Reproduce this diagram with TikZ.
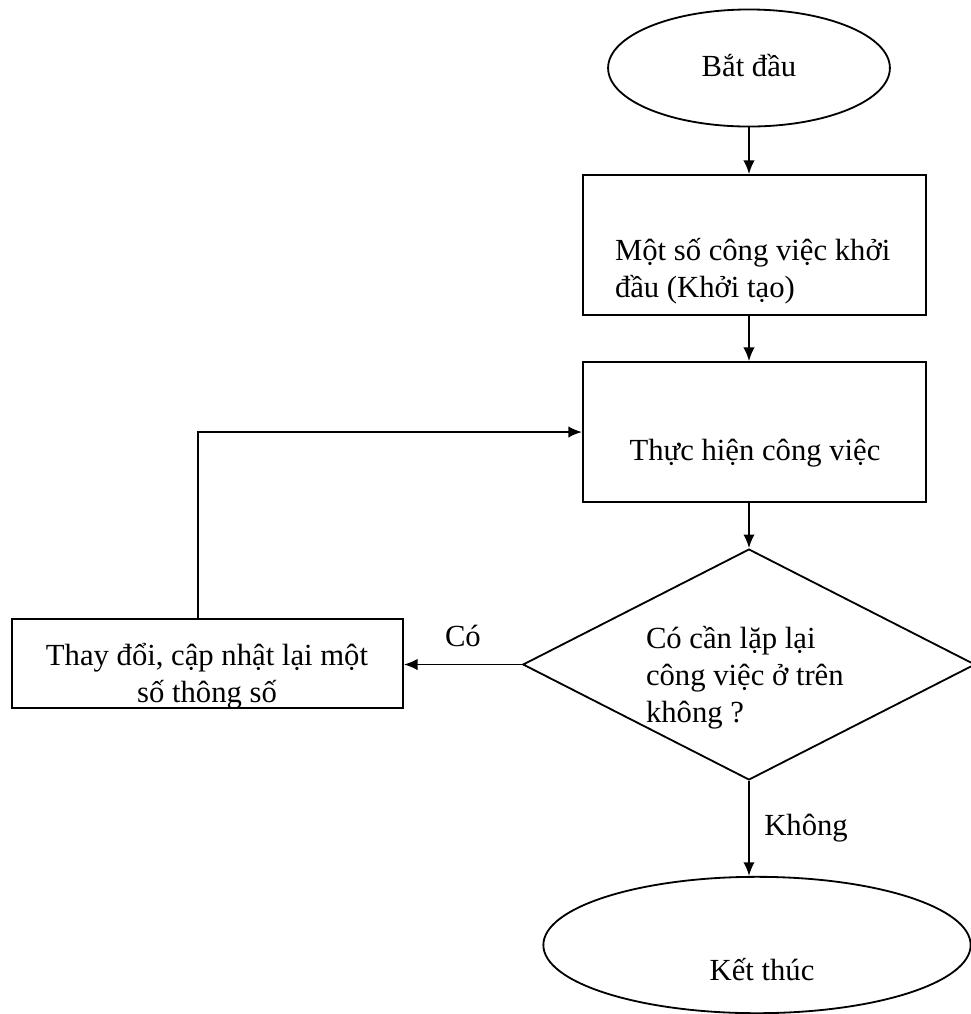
\documentclass[tikz,border=0pt]{standalone}
\usepackage{fontspec}
\setmainfont{Liberation Serif}
\usetikzlibrary{shapes.geometric,arrows.meta}
\tikzset{
  flowline/.style={line width=0.8pt},
  oval/.style={draw, ellipse, flowline, inner sep=0pt},
  stepbox/.style={draw, rectangle, flowline, inner sep=0pt},
  choice/.style={draw, diamond, flowline, inner sep=0pt},
  txt/.style={inner sep=2pt}
}
\begin{document}
\begin{tikzpicture}[x=0.44pt, y=-0.44pt, >={Latex[length=6pt,width=5pt]},
    font=\fontsize{13.5}{16.3}\selectfont]
  \useasboundingbox (0,0) rectangle (971,1014);
  % Shapes
  \node[oval, minimum width=124pt, minimum height=51.5pt] (start) at (749,68) {};
  \node[stepbox, minimum width=151pt, minimum height=61.6pt] (init) at (754.5,245) {};
  \node[stepbox, minimum width=151pt, minimum height=61.6pt] (work) at (754.5,432) {};
  \node[choice, minimum width=199pt, minimum height=101.6pt] (check) at (749,664.5) {};
  \node[stepbox, minimum width=172pt, minimum height=39.2pt] (change) at (207.5,663.5) {};
  \node[oval, minimum width=188pt, minimum height=60pt] (finish) at (757,945) {};
  % Texts
  \node[txt] (tstart) at (749,66) {Bắt đầu};
  \node[txt, anchor=west, align=left] (tinit) at (610,271) {Một số công việc khởi\\đầu (Khởi tạo)};
  \node[txt] (twork) at (755,453) {Thực hiện công việc};
  \node[txt, anchor=west, align=left] (tcheck) at (641,678) {Có cần lặp lại\\công việc ở trên\\không ?};
  \node[txt, align=center] (tchange) at (207,676) {Thay đổi, cập nhật lại một\\số thông số};
  \node[txt] (tfinish) at (762,970) {Kết thúc};
  % Connectors
  \draw[flowline, ->] (start.south) -- (start.south |- init.north);
  \draw[flowline, ->] (init.south -| start.south) -- (start.south |- work.north);
  \draw[flowline, ->] (work.south -| check.north) -- (check.north);
  \draw[flowline, ->] (check.south) -- (check.south |- finish.north)
    node[midway, right=3pt] (tno) {Không};
  \draw[flowline, ->] (check.west) -- (check.west -| change.east)
    node[midway, above=4pt] (tyes) {Có};
  \draw[flowline, ->] ([xshift=-4.2pt]change.north) |- (work.west);
\end{tikzpicture}
\end{document}
